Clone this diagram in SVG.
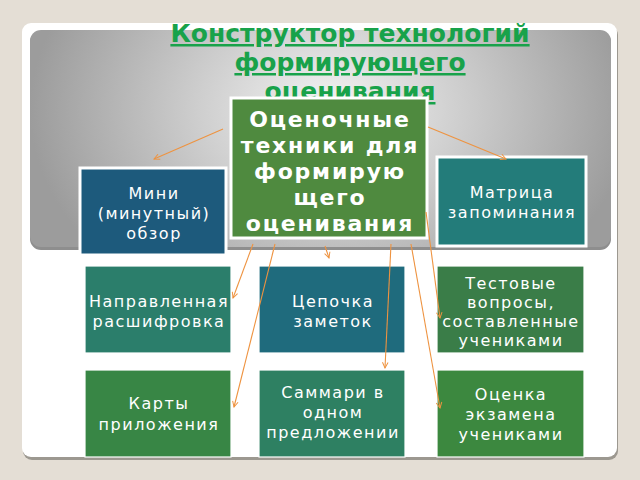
<svg xmlns="http://www.w3.org/2000/svg" width="640" height="480" viewBox="0 0 640 480">
<defs>
<radialGradient id="metal" gradientUnits="userSpaceOnUse" cx="330" cy="110" r="300" gradientTransform="translate(330 110) scale(1 0.75) translate(-330 -110)">
<stop offset="0" stop-color="#f4f4f4"/>
<stop offset="0.45" stop-color="#cdcdcd"/>
<stop offset="1" stop-color="#9c9c9c"/>
</radialGradient>
<marker id="arr" viewBox="0 0 10 10" refX="9" refY="5" markerWidth="7" markerHeight="7" markerUnits="userSpaceOnUse" orient="auto">
<path d="M1,1 L9,5 L1,9" fill="none" stroke="#ee9340" stroke-width="1.4"/>
</marker>
</defs>
<style>
.title{font-family:"DejaVu Sans","Liberation Sans",sans-serif;font-weight:bold;font-size:25px;fill:#18a24a;text-decoration:underline;}
.box{stroke:#ffffff;stroke-width:1.2;}
.boxw{stroke:#ffffff;stroke-width:3;}
.lbl{font-family:"DejaVu Sans","Liberation Sans",sans-serif;font-size:16px;fill:#ffffff;letter-spacing:1.5px;text-anchor:middle;}
.clbl{font-family:"DejaVu Sans","Liberation Sans",sans-serif;font-size:22px;font-weight:bold;fill:#ffffff;letter-spacing:1.8px;text-anchor:middle;}
.con{stroke:#ee9340;stroke-width:1.1;fill:none;marker-end:url(#arr);}
</style>
<rect x="0" y="0" width="640" height="480" fill="#e4ded5"/>
<rect x="23" y="26" width="595" height="434" rx="9" fill="#9c9890"/>
<rect x="22" y="23" width="595" height="434" rx="9" fill="#ffffff"/>
<rect x="30" y="31" width="581" height="219" rx="11" fill="#8e8e8e"/>
<rect x="30" y="30" width="581" height="217" rx="11" fill="url(#metal)"/>
<g id="title">
<text class="title" x="350" y="42" text-anchor="middle">Конструктор технологий</text>
<text class="title" x="350" y="71" text-anchor="middle">формирующего</text>
<text class="title" x="350" y="100" text-anchor="middle">оценивания</text>
</g>
<g id="node-mini">
<rect class="boxw" x="80" y="168" width="146" height="87" fill="#1d5a7c"/>
<text class="lbl" x="154" y="199">Мини</text>
<text class="lbl" x="154" y="219">(минутный)</text>
<text class="lbl" x="154" y="239">обзор</text>
</g>
<g id="node-matrix">
<rect class="boxw" x="437" y="157" width="149" height="89" fill="#237c7a"/>
<text class="lbl" x="512" y="198">Матрица</text>
<text class="lbl" x="512" y="218">запоминания</text>
</g>
<g id="node-center">
<rect class="boxw" x="231" y="98" width="196" height="140" fill="#4f8a3f"/>
<text class="clbl" x="330" y="127">Оценочные</text>
<text class="clbl" x="330" y="153">техники для</text>
<text class="clbl" x="330" y="179">формирую</text>
<text class="clbl" x="330" y="205">щего</text>
<text class="clbl" x="330" y="231">оценивания</text>
</g>
<g id="node-decoding">
<rect class="box" x="85" y="266" width="146" height="87" fill="#2b7e6b"/>
<text class="lbl" x="159" y="307">Направленная</text>
<text class="lbl" x="159" y="327">расшифровка</text>
</g>
<g id="node-chain">
<rect class="box" x="259" y="266" width="146" height="87" fill="#1f6b7d"/>
<text class="lbl" x="333" y="307">Цепочка</text>
<text class="lbl" x="333" y="327">заметок</text>
</g>
<g id="node-tests">
<rect class="box" x="437" y="266" width="147" height="87" fill="#3a7d48"/>
<text class="lbl" x="511" y="289">Тестовые</text>
<text class="lbl" x="511" y="308">вопросы,</text>
<text class="lbl" x="511" y="327">составленные</text>
<text class="lbl" x="511" y="346">учениками</text>
</g>
<g id="node-maps">
<rect class="box" x="85" y="370" width="146" height="87" fill="#388645"/>
<text class="lbl" x="159" y="409">Карты</text>
<text class="lbl" x="159" y="430">приложения</text>
</g>
<g id="node-summary">
<rect class="box" x="259" y="370" width="146" height="87" fill="#2e8062"/>
<text class="lbl" x="333" y="398">Саммари в</text>
<text class="lbl" x="333" y="418">одном</text>
<text class="lbl" x="333" y="438">предложении</text>
</g>
<g id="node-exam">
<rect class="box" x="437" y="370" width="147" height="87" fill="#3c883f"/>
<text class="lbl" x="511" y="400">Оценка</text>
<text class="lbl" x="511" y="420">экзамена</text>
<text class="lbl" x="511" y="440">учениками</text>
</g>
<g id="connectors">
<line class="con" x1="223" y1="129" x2="154" y2="159"/>
<line class="con" x1="428" y1="127" x2="506" y2="159"/>
<line class="con" x1="253" y1="244" x2="233" y2="298"/>
<line class="con" x1="275" y1="244" x2="234" y2="407"/>
<line class="con" x1="325" y1="246" x2="329" y2="258"/>
<line class="con" x1="391" y1="244" x2="385" y2="368"/>
<line class="con" x1="411" y1="244" x2="440" y2="408"/>
<line class="con" x1="426" y1="212" x2="440" y2="318"/>
</g>
</svg>
